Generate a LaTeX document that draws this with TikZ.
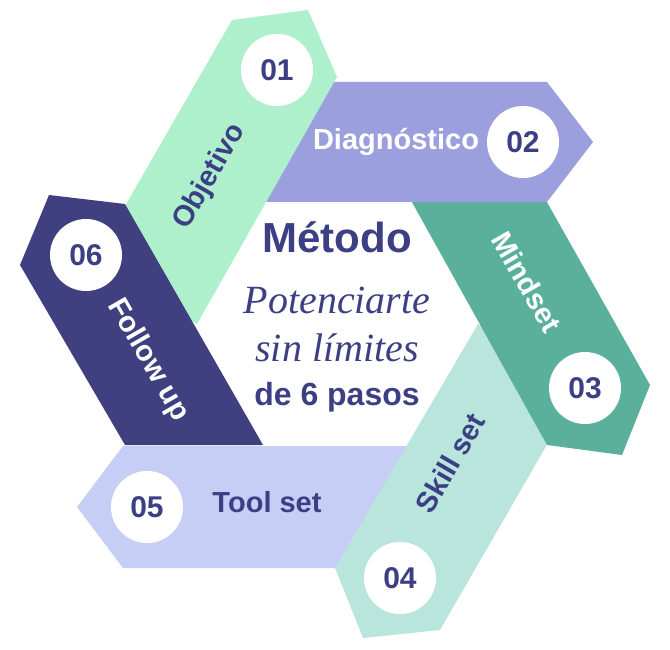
\documentclass[tikz,border=0pt]{standalone}
\usepackage{fontspec}
\setmainfont{Liberation Sans}
\newfontfamily\scriptf{Liberation Serif}
\definecolor{cgreen}{HTML}{AEF0CC}
\definecolor{cpurple}{HTML}{9C9FDD}
\definecolor{cteal}{HTML}{5BB09C}
\definecolor{cmint}{HTML}{B9E5DC}
\definecolor{ctool}{HTML}{C6CEF5}
\definecolor{cfollow}{HTML}{404080}
\definecolor{ctext}{HTML}{3D3F85}
\begin{document}
\begin{tikzpicture}[x=1pt,y=-1pt,
  num/.style={circle,fill=white,minimum size=72pt,inner sep=0pt,text=ctext,font=\fontsize{30}{30}\selectfont\bfseries},
  lab/.style={font=\fontsize{29}{29}\selectfont\bfseries,inner sep=0pt}]
\useasboundingbox (0,0) rectangle (670,650);
% bands in stacking order
\fill[ctool] (123,446) -- (415,446) -- (345,568) -- (123,568) -- (77,507) -- cycle;
\fill[cmint] (478,324) -- (589,372) -- (440,630) -- (363,638) -- (335,568) -- cycle;
\fill[cteal] (408,195) -- (543,195) -- (650,385) -- (622,455) -- (547,445) -- cycle;
\fill[cpurple] (330,82) -- (547,82) -- (593,142) -- (547,202) -- (260,202) -- cycle;
\fill[cgreen] (232,20) -- (308,10) -- (337,77) -- (197,324) -- (91,265) -- cycle;
\fill[cfollow] (49,195) -- (125,204) -- (263,445) -- (125,445) -- (20,265) -- cycle;
% circles
\node[num] (n1) at (277,70) {01};
\node[num] (n2) at (523,142) {02};
\node[num] (n3) at (585,388) {03};
\node[num] (n4) at (400,578) {04};
\node[num] (n5) at (147,507) {05};
\node[num] (n6) at (86,255) {06};
% labels
\node[lab,text=ctext,rotate=60] (l1) at (210,177) {Objetivo};
\node[lab,text=white] (l2) at (396,142) {Diagnóstico};
\node[lab,text=white,rotate=-60] (l3) at (527,282) {Mindset};
\node[lab,text=ctext,rotate=60] (l4) at (450,463) {Skill set};
\node[lab,text=ctext] (l5) at (267,502) {Tool set};
\node[lab,text=white,rotate=-60] (l6) at (148,360) {Follow up};
% center
\node[text=ctext,font=\fontsize{42}{42}\selectfont\bfseries] (t1) at (337,237) {Método};
\node[text=ctext,font=\scriptf\itshape\fontsize{40}{40}\selectfont] (t2) at (337,300) {Potenciarte};
\node[text=ctext,font=\scriptf\itshape\fontsize{40}{40}\selectfont] (t3) at (337,348) {sin límites};
\node[text=ctext,font=\fontsize{32}{32}\selectfont\bfseries] (t4) at (337,397) {de 6 pasos};
\end{tikzpicture}
\end{document}
